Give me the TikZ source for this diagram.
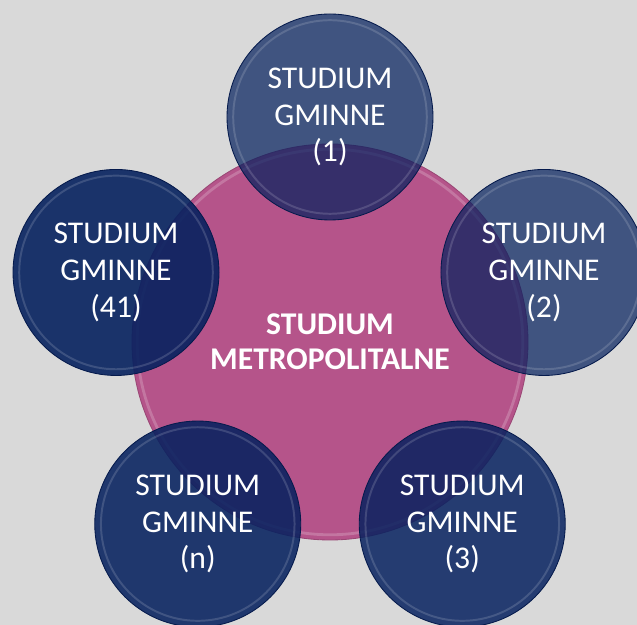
\documentclass[tikz,border=0pt]{standalone}
\usepackage{fontspec}
\setmainfont{Carlito}
\usetikzlibrary{positioning}
\definecolor{tlo}{HTML}{D9D9D9}
\definecolor{roz}{HTML}{B5548A}
\definecolor{granat}{HTML}{06215F}

\begin{document}
\begin{tikzpicture}[
  gmina/.style={circle,minimum size=5.15cm,inner sep=0pt,fill=granat,draw=granat!80!black,line width=.6pt,
    text=white,text opacity=1,align=center,font=\fontsize{22.5}{26}\selectfont},
  metro/.style={circle,minimum size=9.9cm,inner sep=0pt,fill=roz,draw=roz!85!black,line width=.6pt,
    text=white,align=center,font=\fontsize{22.5}{25.2}\selectfont\bfseries}]
  \clip (-8.25,-7.075) rectangle (7.675,8.55);
  \fill[tlo] (-8.25,-7.075) rectangle (7.675,8.55);
  \node[metro] (m) at (0,0) {STUDIUM\\METROPOLITALNE};
  \draw[white,opacity=.2,line width=2pt] (m.center) circle (4.82);
  \foreach \ang/\nr/\op in {90/1/.72,18/2/.72,-54/3/.85,-126/n/.88,162/41/.9}
    \node[gmina,fill opacity=\op] (g\nr) at (\ang:5.625) {STUDIUM\\GMINNE\\(\nr)};
  \foreach \n in {g1,g2,g3,gn,g41}
    \draw[white,opacity=.15,line width=1.4pt] (\n.center) circle (2.42);
\end{tikzpicture}
\end{document}
